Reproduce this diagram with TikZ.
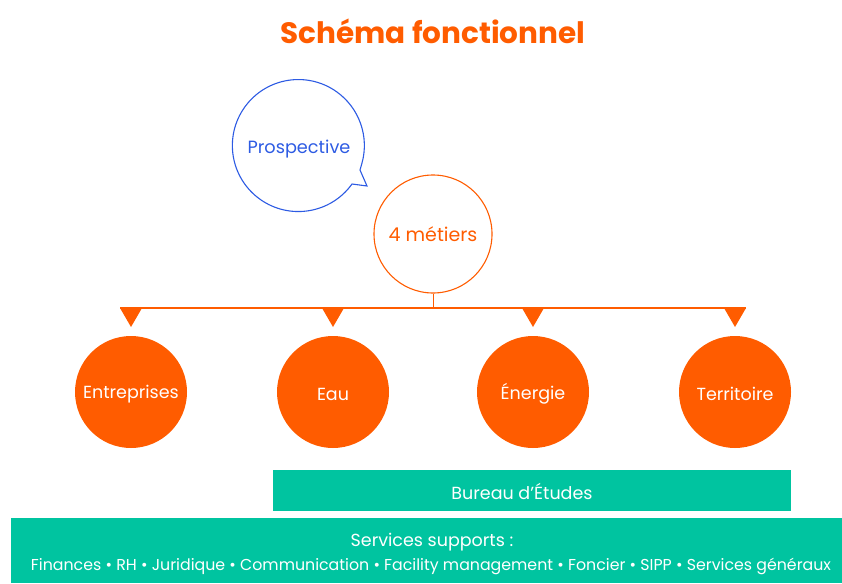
\documentclass[tikz,border=0pt]{standalone}
\usepackage{fontspec}
\setmainfont{Poppins}
\definecolor{orng}{HTML}{FF5C00}
\definecolor{blu}{HTML}{2D5BE3}
\definecolor{grn}{HTML}{00C4A0}
\begin{document}
\begin{tikzpicture}[x=1pt,y=1pt,
  metier/.style={circle,fill=orng,minimum size=112pt,inner sep=0pt,text=white,font=\fontsize{17.5}{20}\selectfont},
  band/.style={fill=grn,draw=none,text=white,inner sep=0pt}]
\useasboundingbox (0,0) rectangle (842,-583);
\node[text=orng,font=\fontsize{29.5}{34}\selectfont\bfseries] (title) at (433,-31) {Schéma fonctionnel};
% speech bubble
\node[circle,minimum size=132pt,inner sep=0pt] (prosp) at (299,-146) {};
\draw[blu,line width=1.1pt] (360,-170) -- (367,-186) -- (352,-184)
  arc[start angle={atan2(-38,53)},end angle={atan2(-38,53)-340},radius=66]
  -- cycle;
\node[text=blu,font=\fontsize{17.7}{20}\selectfont] (ptext) at (299,-149) {Prospective};
\node[circle,draw=orng,line width=1.1pt,minimum size=118pt,inner sep=0pt,text=orng,font=\fontsize{19}{22}\selectfont] (met) at (433,-234) {4 métiers};
\coordinate (hb) at (433,-308);
\coordinate (hl) at (120,-308);
\coordinate (hr) at (746,-308);
\draw[orng,line width=0.9pt] (met.south) -- (hb);
\draw[orng,line width=1.4pt] (hl) -- (hr);
\foreach \x/\n/\t in {131/ent/Entreprises,333/eau/Eau,533/ene/Énergie,735/ter/Territoire}{
  \fill[orng] (\x-11,-308) -- (\x+11,-308) -- (\x,-327) -- cycle;
  \node[metier] (\n) at (\x,-392) {};
  \node[text=white,font=\fontsize{17.5}{20}\selectfont] (\n t) at (\x,-394) {\t};
}
\node[band,minimum width=518pt,minimum height=41pt] (bureau) at (532,-490.5) {};
\node[text=white,font=\fontsize{17.5}{20}\selectfont] (bt) at (522,-491) {Bureau d’Études};
\fill[grn] (11,-518) rectangle (842,-583);
\node[text=white,font=\fontsize{17.5}{20}\selectfont] (sst) at (432,-542) {Services supports :};
\node[text=white,font=\fontsize{15.8}{18}\selectfont] (sl) at (431,-566) {Finances • RH • Juridique • Communication • Facility management • Foncier • SIPP • Services généraux};
\end{tikzpicture}
\end{document}
